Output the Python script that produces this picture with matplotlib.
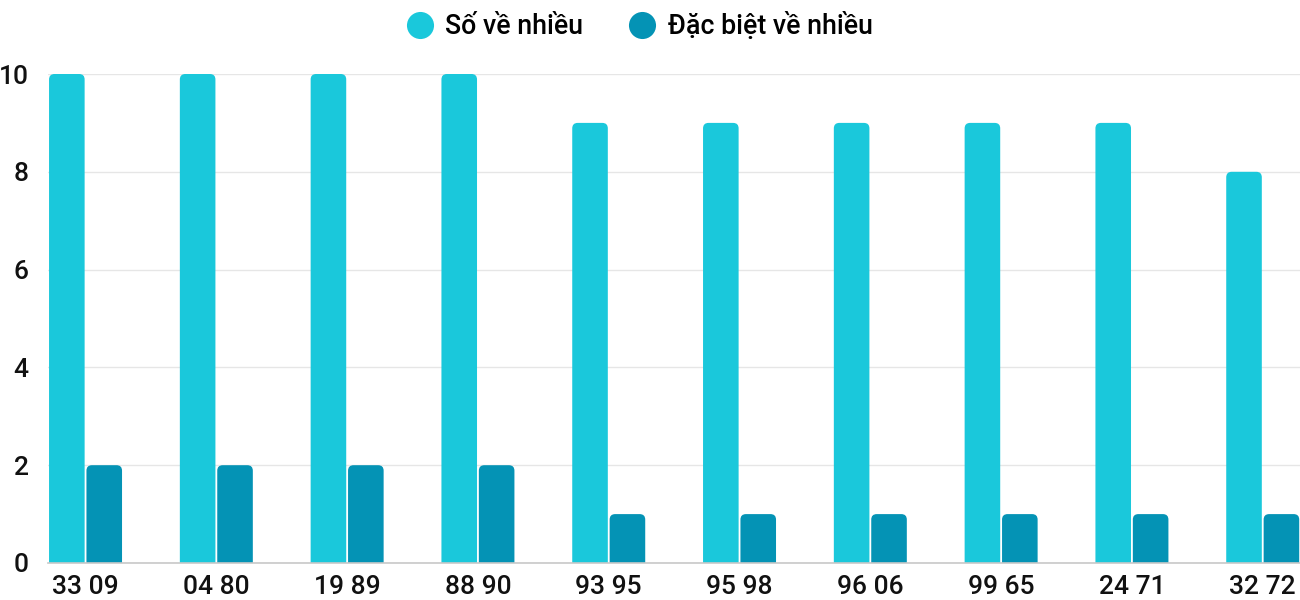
import matplotlib
matplotlib.use("Agg")
import matplotlib.pyplot as plt
from matplotlib.path import Path
from matplotlib.patches import PathPatch
from matplotlib.lines import Line2D
import numpy as np

categories = ["33 09", "04 80", "19 89", "88 90", "93 95", "95 98", "96 06", "99 65", "24 71", "32 72"]
so_ve_nhieu = [10, 10, 10, 10, 9, 9, 9, 9, 9, 8]
dac_biet = [2, 2, 2, 2, 1, 1, 1, 1, 1, 1]
series_names = ["Số về nhiều", "Đặc biệt về nhiều"]
colors = ["#1AC8DB", "#0493B5"]

plt.rcParams['font.family'] = ['Roboto', 'DejaVu Sans']
plt.rcParams['font.weight'] = 'medium'

W, H = 1300, 600
fig = plt.figure(figsize=(13, 6), dpi=100)
left_px, right_px, bottom_px, top_px = 48, 1300, 563, 74
ax = fig.add_axes([left_px / W, 1 - bottom_px / H, (right_px - left_px) / W, (bottom_px - top_px) / H])

n = len(categories)
x = np.arange(n)
xmin, xmax = -0.287, 9.285
ymin, ymax = 0, 10
ax.set_xlim(xmin, xmax)
ax.set_ylim(ymin, ymax)

px_per_x = (right_px - left_px) / (xmax - xmin)
px_per_y = (bottom_px - top_px) / (ymax - ymin)

bw = 0.272
offsets = [-0.143, 0.143]
r_px = 5.5

def rounded_bar(xc, h, color):
    x0, x1 = xc - bw / 2, xc + bw / 2
    rx = r_px / px_per_x
    ry = min(r_px / px_per_y, h / 2)
    verts = [(x0, 0), (x0, h - ry), (x0, h), (x0 + rx, h), (x1 - rx, h), (x1, h), (x1, h - ry), (x1, 0), (x0, 0)]
    codes = [Path.MOVETO, Path.LINETO, Path.CURVE3, Path.CURVE3, Path.LINETO, Path.CURVE3, Path.CURVE3, Path.LINETO, Path.CLOSEPOLY]
    ax.add_patch(PathPatch(Path(verts, codes), facecolor=color, edgecolor='none', zorder=3))

for si, vals in enumerate([so_ve_nhieu, dac_biet]):
    for i, v in enumerate(vals):
        rounded_bar(x[i] + offsets[si], v, colors[si])

ax.set_yticks(np.arange(0, 11, 2))
ax.yaxis.grid(True, color="#e6e6e6", linewidth=1)
ax.set_axisbelow(True)
for s in ["top", "right", "left"]:
    ax.spines[s].set_visible(False)
ax.spines["bottom"].set_color("#c8c8c8")
ax.spines["bottom"].set_linewidth(1.2)
ax.spines["bottom"].set_zorder(4)
ax.set_xticks(x)
ax.set_xticklabels(categories)
ax.tick_params(axis='x', length=0, pad=9, labelsize=19, labelcolor="#111111")
ax.tick_params(axis='y', length=0, pad=14, labelsize=19, labelcolor="#111111")

handles = [Line2D([], [], marker='o', linestyle='none', markersize=19.5, markerfacecolor=c, markeredgecolor='none') for c in colors]
fig.legend(handles, series_names, loc='center', bbox_to_anchor=(0.491, 1 - 26 / H), ncol=2, frameon=False,
           fontsize=19.3, handletextpad=0.35, columnspacing=1.6, handlelength=1.2)

fig.savefig("out.png", dpi=100)
